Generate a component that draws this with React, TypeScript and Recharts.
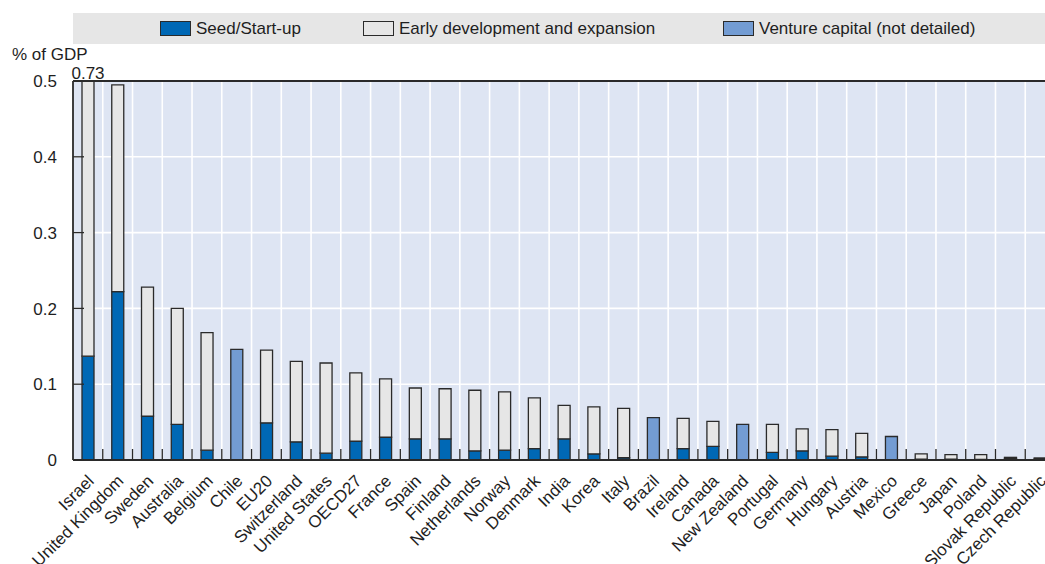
import React from 'react';
import {
  BarChart,
  Bar,
  XAxis,
  YAxis,
  CartesianGrid,
  ReferenceLine,
  Legend,
  LabelList,
} from 'recharts';

// Venture capital investment by stage, % of GDP
const countries = [
  'Israel', 'United Kingdom', 'Sweden', 'Australia', 'Belgium', 'Chile', 'EU20',
  'Switzerland', 'United States', 'OECD27', 'France', 'Spain', 'Finland',
  'Netherlands', 'Norway', 'Denmark', 'India', 'Korea', 'Italy', 'Brazil',
  'Ireland', 'Canada', 'New Zealand', 'Portugal', 'Germany', 'Hungary',
  'Austria', 'Mexico', 'Greece', 'Japan', 'Poland', 'Slovak Republic',
  'Czech Republic',
];

const seedStartUp = [
  0.137, 0.222, 0.058, 0.047, 0.013, null, 0.049, 0.024, 0.009, 0.025, 0.030,
  0.028, 0.028, 0.012, 0.013, 0.015, 0.028, 0.008, 0.003, null, 0.015, 0.018,
  null, 0.010, 0.012, 0.005, 0.004, null, 0.001, 0.001, 0.0008, 0.002, 0.002,
];

const earlyExpansion = [
  0.593, 0.273, 0.170, 0.153, 0.155, null, 0.096, 0.106, 0.119, 0.090, 0.077,
  0.067, 0.066, 0.080, 0.077, 0.067, 0.044, 0.062, 0.065, null, 0.040, 0.033,
  null, 0.037, 0.029, 0.035, 0.031, null, 0.007, 0.006, 0.0062, 0.0015, 0.0006,
];

const ventureNotDetailed = [
  null, null, null, null, null, 0.146, null, null, null, null, null,
  null, null, null, null, null, null, null, null, 0.056, null, null,
  0.047, null, null, null, null, 0.031, null, null, null, null, null,
];

const yTicks = [0, 0.1, 0.2, 0.3, 0.4, 0.5];
const seriesNames = ['Seed/Start-up', 'Early development and expansion', 'Venture capital (not detailed)'];
const unitLabel = '% of GDP';

const data = countries.map((country, i) => ({
  country,
  seed: seedStartUp[i],
  early: earlyExpansion[i],
  vc: ventureNotDetailed[i],
}));

const stackTotal = (entry: any) => (entry.seed ?? 0) + (entry.early ?? 0) + (entry.vc ?? 0);

const FONT = '"Liberation Sans", Arial, sans-serif';
const FONT_SIZE = 17;

const CHART_W = 1060;
const CHART_H = 564;
const PLOT_LEFT = 73;
const PLOT_TOP = 81;
const PLOT_BOTTOM = 460;
const RIGHT_MARGIN = 5;
const LEGEND_TOP = 13;
const LEGEND_H = 31;
const STEP = (CHART_W - PLOT_LEFT - RIGHT_MARGIN) / countries.length;
const Y_MAX = 0.5;

const COLORS = {
  seed: '#0068b5',
  early: '#e6e6e6',
  vc: '#739cd3',
  edge: '#2a2a2a',
  plot: '#dee5f3',
  legend: '#e6e6e6',
  text: '#1e1e1e',
};

const textStyle = {
  fontFamily: FONT,
  fontSize: FONT_SIZE,
  fill: COLORS.text,
};

const legendItems = [
  { name: seriesNames[0], color: COLORS.seed, left: 87 },
  { name: seriesNames[1], color: COLORS.early, left: 290 },
  { name: seriesNames[2], color: COLORS.vc, left: 650 },
];

const LegendBox = () => (
  <div
    style={{
      position: 'relative',
      width: CHART_W - PLOT_LEFT,
      height: LEGEND_H,
      background: COLORS.legend,
      fontFamily: FONT,
      fontSize: FONT_SIZE,
      color: COLORS.text,
    }}
  >
    {legendItems.map((item) => (
      <div
        key={item.name}
        style={{
          position: 'absolute',
          left: item.left,
          top: 0,
          height: LEGEND_H,
          display: 'flex',
          alignItems: 'center',
          whiteSpace: 'nowrap',
        }}
      >
        <span
          style={{
            display: 'inline-block',
            width: 31,
            height: 15,
            boxSizing: 'border-box',
            background: item.color,
            border: `1px solid ${COLORS.edge}`,
            marginRight: 5,
          }}
        />
        <span>{item.name}</span>
      </div>
    ))}
  </div>
);

const YTick = (props: any) => {
  const { x, y, payload } = props;
  const v = payload.value as number;
  return (
    <g>
      <line x1={PLOT_LEFT} x2={PLOT_LEFT + 11} y1={y} y2={y} stroke={COLORS.edge} strokeWidth={1.3} />
      <text x={x} y={y} dy="0.36em" textAnchor="end" style={textStyle}>
        {v === 0 ? '0' : v.toFixed(1)}
      </text>
    </g>
  );
};

const XTick = (props: any) => {
  const { x, y, payload, index } = props;
  const bx = x - STEP / 2;
  const ax = x + 7;
  const ay = y + 22;
  return (
    <g>
      {index > 0 && (
        <line x1={bx} x2={bx} y1={PLOT_BOTTOM} y2={PLOT_BOTTOM - 11} stroke={COLORS.edge} strokeWidth={1.3} />
      )}
      <text x={ax} y={ay} transform={`rotate(-45 ${ax} ${ay})`} textAnchor="end" style={textStyle}>
        {payload.value}
      </text>
    </g>
  );
};

// Total printed above bars that run past the top of the axis
const OverflowLabel = (props: any) => {
  const { x, width, value } = props;
  const total = Array.isArray(value) ? value[1] : Number(value);
  if (!Number.isFinite(total) || total <= Y_MAX) return null;
  return (
    <text x={x + width / 2} y={PLOT_TOP - 2} textAnchor="middle" style={textStyle}>
      {total.toFixed(2)}
    </text>
  );
};

const UnitLabel = () => (
  <text x={12} y={60} textAnchor="start" style={textStyle}>
    {unitLabel}
  </text>
);

const boundaryLines = ({ offset }: any) =>
  countries.slice(1).map((_, i) => offset.left + ((i + 1) * offset.width) / countries.length);

export default function App() {
  return (
    <div
      style={{
        position: 'fixed',
        left: 0,
        top: 0,
        width: 1045,
        height: 564,
        overflow: 'hidden',
        background: '#fff',
      }}
    >
      <BarChart
        width={CHART_W}
        height={CHART_H}
        data={data}
        margin={{ top: PLOT_TOP - LEGEND_H, right: RIGHT_MARGIN, bottom: 0, left: 0 }}
        barSize={12}
      >
        <CartesianGrid
          fill={COLORS.plot}
          fillOpacity={1}
          stroke="#ffffff"
          strokeWidth={1.6}
          verticalCoordinatesGenerator={boundaryLines}
        />
        <Legend
          verticalAlign="top"
          align="left"
          content={<LegendBox />}
          wrapperStyle={{ top: LEGEND_TOP, left: PLOT_LEFT, width: CHART_W - PLOT_LEFT }}
        />
        <XAxis
          dataKey="country"
          interval={0}
          height={CHART_H - PLOT_BOTTOM}
          tickSize={0}
          tickMargin={0}
          tickLine={false}
          axisLine={{ stroke: COLORS.edge, strokeWidth: 1.8 }}
          tick={<XTick />}
        />
        <YAxis
          type="number"
          width={PLOT_LEFT}
          domain={[0, Y_MAX]}
          ticks={yTicks}
          allowDataOverflow
          tickSize={0}
          tickMargin={16}
          tickLine={false}
          axisLine={{ stroke: COLORS.edge, strokeWidth: 1.8 }}
          tick={<YTick />}
          label={<UnitLabel />}
        />
        <ReferenceLine y={Y_MAX} stroke={COLORS.edge} strokeWidth={1.8} />
        <Bar dataKey="seed" stackId="vc" fill={COLORS.seed} stroke={COLORS.edge} strokeWidth={1.3} isAnimationActive={false} />
        <Bar dataKey="early" stackId="vc" fill={COLORS.early} stroke={COLORS.edge} strokeWidth={1.3} isAnimationActive={false}>
          <LabelList dataKey={stackTotal} content={<OverflowLabel />} />
        </Bar>
        <Bar dataKey="vc" stackId="vc" fill={COLORS.vc} stroke={COLORS.edge} strokeWidth={1.3} isAnimationActive={false} />
      </BarChart>
    </div>
  );
}
